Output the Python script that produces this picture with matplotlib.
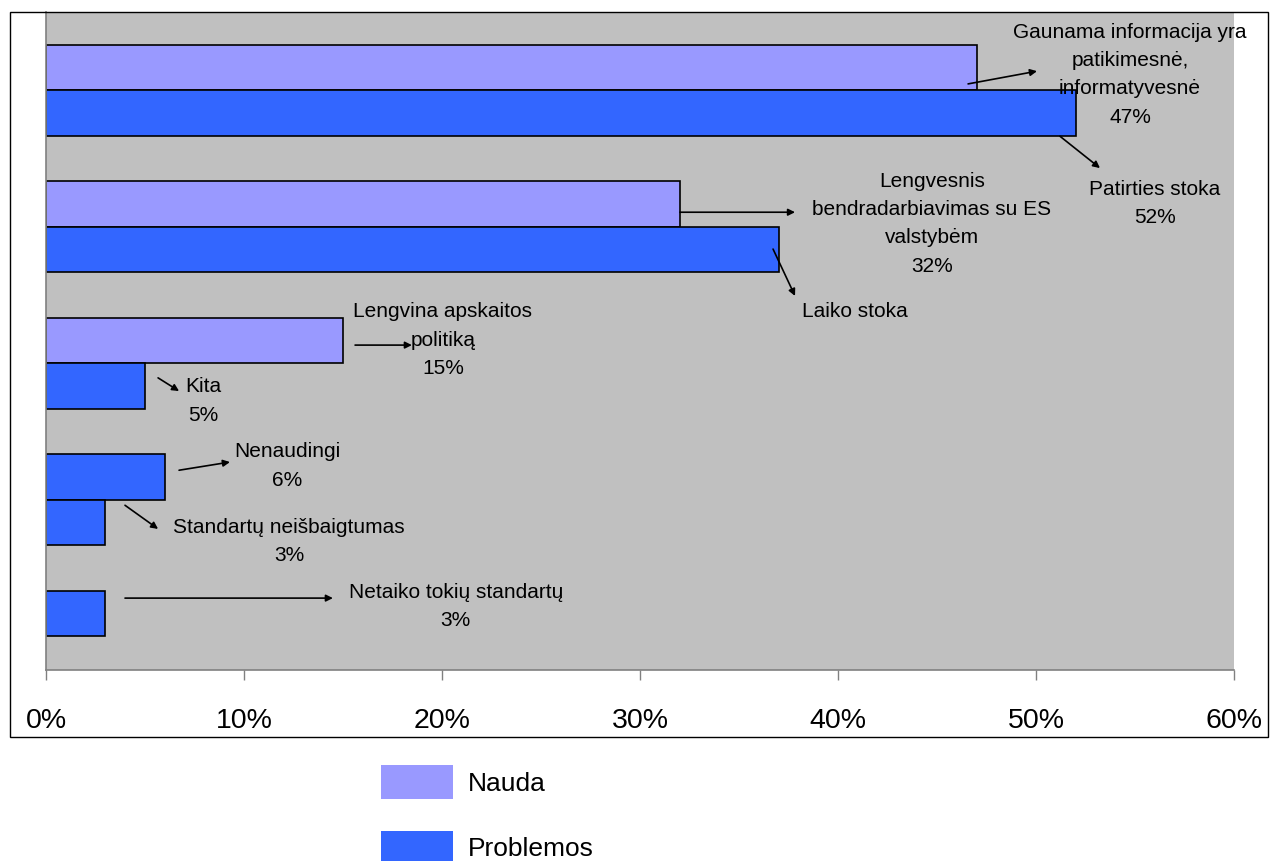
import matplotlib
matplotlib.use("Agg")
import matplotlib.pyplot as plt
from matplotlib.patches import Patch, Rectangle

plt.rcParams["font.family"] = ["Liberation Sans", "DejaVu Sans"]

# Data: one entry per bar, grouped top to bottom
labels = [
    "Gaunama informacija yra\npatikimesnė,\ninformatyvesnė",
    "Patirties stoka",
    "Lengvesnis\nbendradarbiavimas su ES\nvalstybėm",
    "Laiko stoka",
    "Lengvina apskaitos\npolitiką",
    "Kita",
    "Nenaudingi",
    "Standartų neišbaigtumas",
    "Netaiko tokių standartų",
]
values = [47, 52, 32, 37, 15, 5, 6, 3, 3]
series = ["Nauda", "Problemos", "Nauda", "Problemos", "Nauda",
          "Problemos", "Problemos", "Problemos", "Problemos"]
show_pct = [True, True, True, False, True, True, True, True, True]
group_sizes = [2, 2, 2, 2, 1]

series_names = ["Nauda", "Problemos"]
series_colors = {"Nauda": "#9999FF", "Problemos": "#3366FF"}
x_ticks = [0, 10, 20, 30, 40, 50, 60]

# Callout layout (data coords): text centre, arrow tail, arrow head
text_pos = [(54.75, 0.16), (56.0, 2.99), (44.75, 3.43), (40.86, 5.37),
            (20.05, 5.99), (7.93, 7.33), (12.17, 8.76), (12.27, 10.42),
            (20.7, 11.84)]
arrow_tail = [(46.57, 0.36), (51.21, 1.51), (32.02, 3.18), (36.72, 3.99),
              (15.61, 6.10), (5.66, 6.82), (6.72, 8.85), (3.99, 9.62),
              (3.99, 11.66)]
arrow_head = [(50.05, 0.08), (53.23, 2.21), (37.83, 3.18), (37.83, 5.02),
              (18.48, 6.10), (6.72, 7.11), (9.29, 8.67), (5.66, 10.14),
              (14.49, 11.66)]

# Bar slots: bars in a group are adjacent, one empty slot between groups
positions = []
for g, n in enumerate(group_sizes):
    positions.extend(3 * g + i for i in range(n))

W, H = 1280, 861
fig = plt.figure(figsize=(W / 100, H / 100), dpi=100)
ax = fig.add_axes([46 / W, 1 - 670 / H, (1234 - 46) / W, (670 - 12) / H])
ax.set_facecolor("#C0C0C0")

ax.barh(positions, values, height=1.0,
        color=[series_colors[s] for s in series],
        edgecolor="black", linewidth=1.2, zorder=2)

ax.set_xlim(0, 60)
ax.set_ylim(13.24, -1.22)
ax.set_yticks([])
ax.set_xticks(x_ticks)
ax.set_xticklabels([f"{t}%" for t in x_ticks])
ax.tick_params(axis="x", length=7.5, width=1, color="#808080",
               labelsize=20.5, pad=19.5)
for side in ("top", "right"):
    ax.spines[side].set_visible(False)
for side in ("left", "bottom"):
    ax.spines[side].set_color("#808080")
    ax.spines[side].set_linewidth(1.2)

for lab, v, pct, tp, tail, head in zip(labels, values, show_pct,
                                       text_pos, arrow_tail, arrow_head):
    txt = f"{lab}\n{v}%" if pct else lab
    ax.text(tp[0], tp[1], txt, ha="center", va="center", fontsize=15,
            linespacing=1.62, color="black", zorder=4)
    ax.annotate("", xy=head, xytext=tail,
                arrowprops=dict(arrowstyle="-|>", color="black", lw=1.2,
                                mutation_scale=10, shrinkA=0, shrinkB=0),
                zorder=4)

# Chart frame
fig.add_artist(Rectangle((10 / W, 1 - 737 / H), (1268 - 10) / W,
                         (737 - 12) / H, transform=fig.transFigure,
                         fill=False, edgecolor="black", linewidth=1.0))

handles = [Patch(facecolor=series_colors[s], edgecolor="none")
           for s in series_names]
fig.legend(handles, series_names, loc="upper left",
           bbox_to_anchor=(381 / W, 1 - 765 / H), frameon=False,
           fontsize=19, borderpad=0, borderaxespad=0,
           handlelength=2.73, handleheight=1.6, handletextpad=0.55,
           labelspacing=1.2)

fig.savefig("out.png", dpi=100)
